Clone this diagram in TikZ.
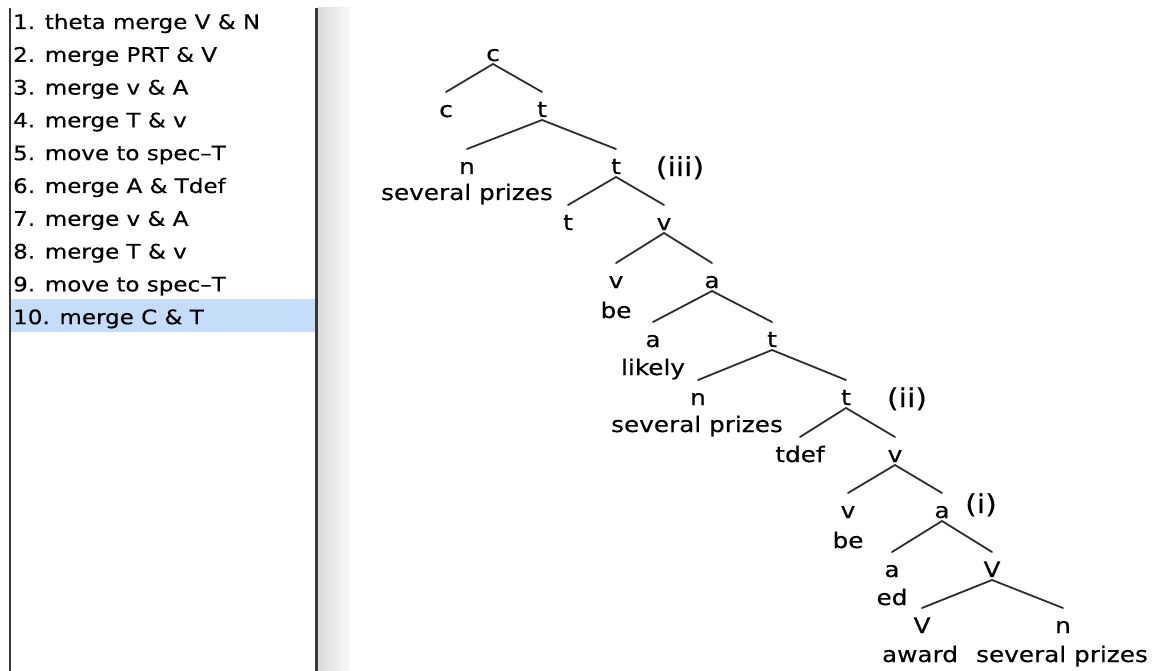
\documentclass[tikz,border=0pt]{standalone}
\usepackage{fontspec}
\setmainfont{DejaVu Sans}[FakeStretch=1.15, FakeBold=0.35]
\usetikzlibrary{calc}
\definecolor{selblue}{RGB}{198,221,249}
\definecolor{framegray}{RGB}{55,55,55}
\definecolor{inkline}{RGB}{45,45,45}
\definecolor{stripL}{RGB}{220,220,220}
\definecolor{stripR}{RGB}{248,248,248}

\begin{document}
\begin{tikzpicture}[x=1pt,y=-1pt,
  item/.style={anchor=base west, inner sep=0pt, font=\fontsize{20}{24}\selectfont},
  lab/.style={anchor=base, inner sep=0pt, font=\fontsize{21.5}{26}\selectfont},
  stage/.style={anchor=base, inner sep=0pt, font=\fontsize{26}{30}\selectfont},
  branch/.style={draw=inkline, line width=1.8pt, line cap=round}
]
% canvas
\fill[white] (0,0) rectangle (1159,671);
\useasboundingbox (0,0) rectangle (1159,671);

% step list panel
\shade[left color=stripL, right color=stripR] (318,8) rectangle (350,671);
\fill[selblue] (11,299) rectangle (315,332);
\draw[framegray, line width=1.6pt] (10,8) -- (10,671);
\draw[framegray, line width=2.5pt] (316.5,8) -- (316.5,671);

\foreach \t [count=\i] in {theta merge V \& N, merge PRT \& V, merge v \& A,
  merge T \& v, move to spec--T, merge A \& Tdef, merge v \& A, merge T \& v,
  move to spec--T, merge C \& T}
  \node[item] (s\i) at (13,{29+32.8*(\i-1)}) {\i. \t};

% derivation tree
\node[lab] (c0) at (493,61) {c};
\node[lab] (c1) at (446,117) {c};
\node[lab] (t1) at (542,117) {t};
\node[lab] (n1) at (467,174) {n};
\node[lab] (t2) at (616,174) {t};
\node[lab] (w1) at (467,200) {several prizes};
\node[stage] (stg3) at (680,176) {(iii)};
\node[lab] (t3) at (568,230) {t};
\node[lab] (v1) at (664,230) {v};
\node[lab] (v2) at (616,288) {v};
\node[lab] (a1) at (712,288) {a};
\node[lab] (w2) at (616,318) {be};
\node[lab] (a2) at (653,347) {a};
\node[lab] (t4) at (772,347) {t};
\node[lab] (w3) at (653,375) {likely};
\node[lab] (n2) at (698,405) {n};
\node[lab] (t5) at (846,405) {t};
\node[lab] (w4) at (697,432) {several prizes};
\node[stage] (stg2) at (907,407) {(ii)};
\node[lab] (td) at (800,462) {tdef};
\node[lab] (v3) at (895,462) {v};
\node[lab] (v4) at (848,518) {v};
\node[lab] (a3) at (942,518) {a};
\node[lab] (w5) at (848,548) {be};
\node[stage] (stg1) at (981,513) {(i)};
\node[lab] (a4) at (892,577) {a};
\node[lab] (V1) at (992,577) {V};
\node[lab] (w6) at (892,605) {ed};
\node[lab] (V2) at (922,633) {V};
\node[lab] (n3) at (1063,633) {n};
\node[lab] (w7) at (920,662) {award};
\node[lab] (w8) at (1062,662) {several prizes};

\foreach \p/\l/\r in {c0/c1/t1, t1/n1/t2, t2/t3/v1, v1/v2/a1, a1/a2/t4,
  t4/n2/t5, t5/td/v3, v3/v4/a3, a3/a4/V1, V1/V2/n3}
  \draw[branch] ($(\l.base)+(0,-25)$) -- ($(\p.base)+(0,3)$) -- ($(\r.base)+(0,-25)$);
\end{tikzpicture}
\end{document}
